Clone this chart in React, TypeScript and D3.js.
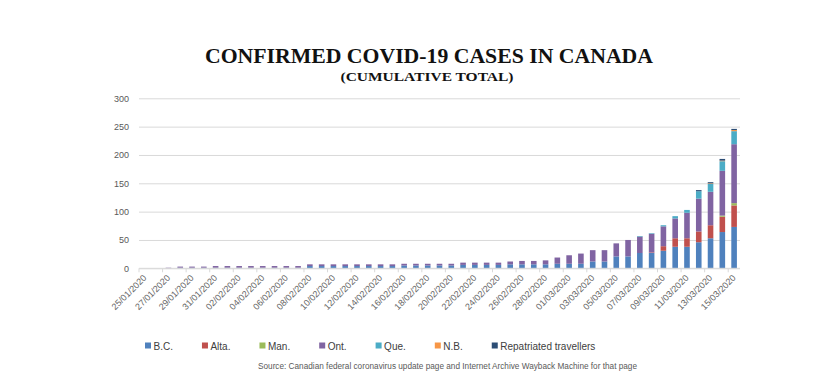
import * as d3 from "d3";
import { useEffect, useRef } from "react";

// one category per day, 25/01/2020 .. 15/03/2020
const dates = d3.timeDay
    .range(new Date(2020, 0, 25), new Date(2020, 2, 16))
    .map(d3.timeFormat("%d/%m/%Y"));

const provinces = ["B.C.", "Alta.", "Man.", "Ont.", "Que.", "N.B.", "Repatriated travellers"];
const colors = ["#4F81BD", "#C0504D", "#9BBB59", "#8064A2", "#4BACC6", "#F79646", "#2C4D75"];

// cumulative cases per day
const bc = [0, 0, 0, 1, 1, 1, 1, 1, 1, 1, 1, 1, 1, 1, 4, 4, 4, 4, 4, 4, 4, 4, 5, 5, 5, 5, 5, 6, 6, 6, 6, 7, 7, 7, 7, 8, 8, 8, 12, 12, 21, 21, 27, 27, 31, 38, 38, 46, 53, 64, 73];
const alta = [0, 0, 0, 0, 0, 0, 0, 0, 0, 0, 0, 0, 0, 0, 0, 0, 0, 0, 0, 0, 0, 0, 0, 0, 0, 0, 0, 0, 0, 0, 0, 0, 0, 0, 0, 0, 0, 0, 0, 0, 0, 0, 0, 1, 8, 15, 15, 19, 23, 27, 38];
const man = [0, 0, 0, 0, 0, 0, 0, 0, 0, 0, 0, 0, 0, 0, 0, 0, 0, 0, 0, 0, 0, 0, 0, 0, 0, 0, 0, 0, 0, 0, 0, 0, 0, 0, 0, 0, 0, 0, 0, 0, 0, 0, 0, 0, 0, 0, 0, 0, 0, 2, 4];
const ont = [0, 0, 1, 2, 2, 2, 3, 3, 3, 3, 3, 3, 3, 3, 3, 3, 3, 3, 3, 3, 3, 3, 3, 3, 3, 3, 3, 4, 4, 4, 4, 5, 6, 6, 7, 11, 15, 18, 20, 20, 23, 29, 29, 33, 35, 35, 45, 58, 59, 79, 104];
const que = [0, 0, 0, 0, 0, 0, 0, 0, 0, 0, 0, 0, 0, 0, 0, 0, 0, 0, 0, 0, 0, 0, 0, 0, 0, 0, 0, 0, 0, 0, 0, 0, 0, 0, 0, 0, 0, 0, 0, 0, 0, 0, 1, 1, 2, 4, 5, 13, 14, 17, 23];
const nb = [0, 0, 0, 0, 0, 0, 0, 0, 0, 0, 0, 0, 0, 0, 0, 0, 0, 0, 0, 0, 0, 0, 0, 0, 0, 0, 0, 0, 0, 0, 0, 0, 0, 0, 0, 0, 0, 0, 0, 0, 0, 0, 0, 0, 0, 0, 0, 0, 1, 1, 2];
const repat = [0, 0, 0, 0, 0, 0, 0, 0, 0, 0, 0, 0, 0, 0, 0, 0, 0, 0, 0, 0, 0, 0, 0, 0, 0, 0, 0, 0, 0, 0, 0, 0, 0, 0, 0, 0, 0, 0, 0, 0, 0, 0, 0, 0, 0, 0, 0, 2, 2, 3, 2];

const yTicks = [0, 50, 100, 150, 200, 250, 300];

const title = "CONFIRMED COVID-19 CASES IN CANADA";
const subtitle = "(CUMULATIVE TOTAL)";
const source = "Source:  Canadian federal coronavirus update page and Internet  Archive Wayback Machine for that page";

export default function App() {
    const ref = useRef<SVGSVGElement | null>(null);

    useEffect(() => {
        if (!ref.current) return;
        const svg = d3.select(ref.current);
        svg.selectAll("*").remove();

        const width = 823;
        const height = 390;
        const plot = { left: 139, right: 740, top: 98.3, bottom: 268.3 };
        const sans = "'Liberation Sans', Arial, sans-serif";
        const serif = "'Liberation Serif', 'Times New Roman', serif";

        svg.append("rect").attr("width", width).attr("height", height).attr("fill", "#fff");

        // titles
        svg.append("text")
            .attr("x", 429)
            .attr("y", 63)
            .attr("text-anchor", "middle")
            .attr("font-family", serif)
            .attr("font-weight", "bold")
            .attr("font-size", 21)
            .attr("textLength", 448)
            .attr("lengthAdjust", "spacingAndGlyphs")
            .attr("fill", "#111")
            .text(title);
        svg.append("text")
            .attr("x", 427)
            .attr("y", 81)
            .attr("text-anchor", "middle")
            .attr("font-family", serif)
            .attr("font-weight", "bold")
            .attr("font-size", 13)
            .attr("textLength", 173)
            .attr("lengthAdjust", "spacingAndGlyphs")
            .attr("fill", "#111")
            .text(subtitle);

        const x = d3
            .scaleBand<string>()
            .domain(dates)
            .range([plot.left, plot.right])
            .paddingInner(0.525)
            .paddingOuter(0.2625);
        const y = d3.scaleLinear().domain([0, 300]).range([plot.bottom, plot.top]);

        // y axis + gridlines
        const yAxis = svg
            .append("g")
            .attr("transform", `translate(${plot.left},0)`)
            .call(
                d3
                    .axisLeft(y)
                    .tickValues(yTicks)
                    .tickSize(-(plot.right - plot.left))
                    .tickPadding(10),
            );
        yAxis.select(".domain").remove();
        yAxis.selectAll(".tick line").attr("stroke", "#D9D9D9").attr("stroke-width", 1);
        yAxis.selectAll(".tick text")
            .attr("fill", "#595959")
            .attr("font-family", sans)
            .attr("font-size", 9);

        // stacked bars
        const rows = dates.map((d, i) => ({
            date: d,
            "B.C.": bc[i],
            "Alta.": alta[i],
            "Man.": man[i],
            "Ont.": ont[i],
            "Que.": que[i],
            "N.B.": nb[i],
            "Repatriated travellers": repat[i],
        }));
        const stack = d3.stack<any>().keys(provinces)(rows);
        svg.append("g")
            .selectAll("g")
            .data(stack)
            .join("g")
            .attr("fill", (_, i) => colors[i])
            .selectAll("rect")
            .data((s) => s)
            .join("rect")
            .attr("x", (d) => x(d.data.date)!)
            .attr("width", x.bandwidth())
            .attr("y", (d) => y(d[1]))
            .attr("height", (d) => y(d[0]) - y(d[1]));

        // x axis line, ticks every 2 days at category edges
        const half = (x.step() - x.bandwidth()) / 2;
        svg.append("line")
            .attr("x1", plot.left)
            .attr("x2", plot.right)
            .attr("y1", plot.bottom)
            .attr("y2", plot.bottom)
            .attr("stroke", "#D9D9D9");
        const labelled = dates.filter((_, i) => i % 2 === 0);
        svg.append("g")
            .selectAll("line")
            .data(labelled)
            .join("line")
            .attr("x1", (d) => x(d)! - half)
            .attr("x2", (d) => x(d)! - half)
            .attr("y1", plot.bottom)
            .attr("y2", plot.bottom + 4)
            .attr("stroke", "#D9D9D9");
        svg.append("g")
            .selectAll("text")
            .data(labelled)
            .join("text")
            .attr("transform", (d) => `translate(${x(d)! + x.bandwidth() / 2},${plot.bottom + 8}) rotate(-45)`)
            .attr("text-anchor", "end")
            .attr("dy", "0.35em")
            .attr("fill", "#666")
            .attr("font-family", sans)
            .attr("font-size", 9)
            .text((d) => d);

        // legend
        let lx = 145;
        provinces.forEach((p, i) => {
            svg.append("rect")
                .attr("x", lx)
                .attr("y", 342.5)
                .attr("width", 6)
                .attr("height", 6)
                .attr("fill", colors[i]);
            const t = svg
                .append("text")
                .attr("x", lx + 8.5)
                .attr("y", 349.5)
                .attr("fill", "#404040")
                .attr("font-family", sans)
                .attr("font-size", 10)
                .text(p);
            const w = (t.node() as SVGTextElement).getComputedTextLength();
            lx += 8.5 + w + 29;
        });

        svg.append("text")
            .attr("x", 258)
            .attr("y", 369)
            .attr("fill", "#595959")
            .attr("font-family", sans)
            .attr("font-size", 8.5)
            .attr("textLength", 379)
            .attr("lengthAdjust", "spacingAndGlyphs")
            .text(source);
    }, []);

    return (
        <svg
            ref={ref}
            width={823}
            height={390}
            style={{ position: "absolute", left: 0, top: 0, display: "block" }}
        ></svg>
    );
}
